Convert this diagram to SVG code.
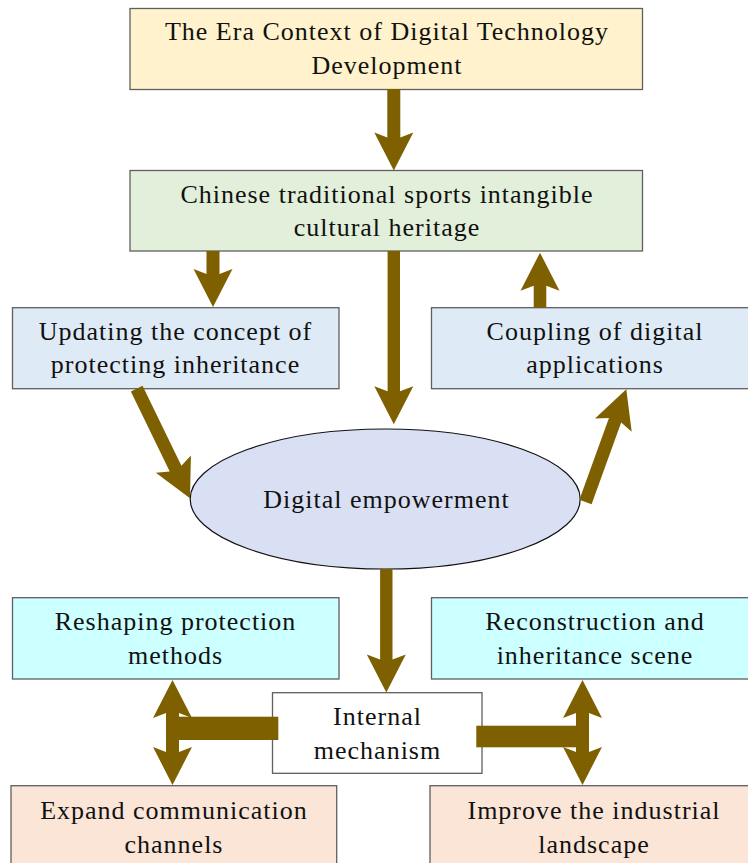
<svg xmlns="http://www.w3.org/2000/svg" width="748" height="863" viewBox="0 0 748 863">
<style>
.box{stroke:#5f5f5f;stroke-width:1.3}
.t{font-family:"Liberation Serif","Times New Roman",serif;font-size:26px;letter-spacing:1px;fill:#111;text-anchor:middle}
.arr{fill:#7f6000}
</style>
<rect width="748" height="863" fill="#ffffff"/>
<g id="n-era">
<rect class="box" x="130" y="8.5" width="512.5" height="81" fill="#fff2cc"/>
<text class="t" x="387" y="40">The Era Context of Digital Technology</text>
<text class="t" x="387" y="73.5">Development</text>
</g>
<g id="n-heritage">
<rect class="box" x="130" y="170.5" width="512.5" height="80.5" fill="#e2efda"/>
<text class="t" x="387" y="203">Chinese traditional sports intangible</text>
<text class="t" x="387" y="236">cultural heritage</text>
</g>
<g id="n-updating">
<rect class="box" x="12.5" y="307.7" width="326.5" height="81" fill="#deebf7"/>
<text class="t" x="175.5" y="340">Updating the concept of</text>
<text class="t" x="175.5" y="373.3">protecting inheritance</text>
</g>
<g id="n-coupling">
<rect class="box" x="431.5" y="307.7" width="320" height="81" fill="#deebf7"/>
<text class="t" x="595" y="340">Coupling of digital</text>
<text class="t" x="595" y="373.3">applications</text>
</g>
<g id="n-digital">
<ellipse cx="385.2" cy="499" rx="195" ry="70" fill="#dae0f3" stroke="#111" stroke-width="1.2"/>
<text class="t" x="386.5" y="508">Digital empowerment</text>
</g>
<g id="n-reshaping">
<rect class="box" x="12.5" y="597.7" width="326.5" height="81.3" fill="#ccffff"/>
<text class="t" x="175.5" y="630">Reshaping protection</text>
<text class="t" x="175.5" y="664.3">methods</text>
</g>
<g id="n-reconstruction">
<rect class="box" x="431.5" y="597.7" width="320" height="81.3" fill="#ccffff"/>
<text class="t" x="595" y="630">Reconstruction and</text>
<text class="t" x="595" y="664.3">inheritance scene</text>
</g>
<g id="n-internal">
<rect class="box" x="272.5" y="692.7" width="209.5" height="80.6" fill="#ffffff" stroke="#222"/>
<text class="t" x="377.5" y="725">Internal</text>
<text class="t" x="377.5" y="759.3">mechanism</text>
</g>
<g id="n-expand">
<rect class="box" x="11" y="785.7" width="325.7" height="90" fill="#fbe5d6"/>
<text class="t" x="174" y="819.3">Expand communication</text>
<text class="t" x="174" y="853.3">channels</text>
</g>
<g id="n-improve">
<rect class="box" x="430" y="785.7" width="322" height="90" fill="#fbe5d6"/>
<text class="t" x="594" y="819.3">Improve the industrial</text>
<text class="t" x="594" y="853.3">landscape</text>
</g>
<g id="connectors">
<polygon class="arr" transform="translate(393.8,170.5) rotate(90)" points="-81.5,-6.5 -33,-6.5 -38,-19.5 0,0 -38,19.5 -33,6.5 -81.5,6.5"/>
<polygon class="arr" transform="translate(213,307) rotate(90)" points="-56,-6.5 -33,-6.5 -38,-19.5 0,0 -38,19.5 -33,6.5 -56,6.5"/>
<polygon class="arr" transform="translate(393.8,424.3) rotate(90)" points="-173.3,-6.2 -33,-6.2 -38,-19.5 0,0 -38,19.5 -33,6.2 -173.3,6.2"/>
<polygon class="arr" transform="translate(540,252.7) rotate(-90)" points="-55,-6.3 -33,-6.3 -38,-19.5 0,0 -38,19.5 -33,6.3 -55,6.3"/>
<polygon class="arr" transform="translate(190,498.3) rotate(64.07)" points="-121.9,-6.5 -33,-6.5 -38,-19.5 0,0 -38,19.5 -33,6.5 -121.9,6.5"/>
<polygon class="arr" transform="translate(626.3,389.3) rotate(-70.1)" points="-119.9,-6.5 -33,-6.5 -38,-19.5 0,0 -38,19.5 -33,6.5 -119.9,6.5"/>
<polygon class="arr" transform="translate(386.3,692.5) rotate(90)" points="-123.5,-6.2 -33,-6.2 -38,-19.5 0,0 -38,19.5 -33,6.2 -123.5,6.2"/>
<rect class="arr" x="166" y="716.7" width="112.3" height="23.3"/>
<polygon class="arr" points="172.5,680 192,718 179,713 179,752 192,747 172.5,785 153,747 166,752 166,713 153,718"/>
<rect class="arr" x="476.3" y="725.7" width="112.4" height="21.6"/>
<polygon class="arr" points="582.5,680 602,718 589,713 589,752 602,747 582.5,785 563,747 576,752 576,713 563,718"/>
</g>
</svg>
